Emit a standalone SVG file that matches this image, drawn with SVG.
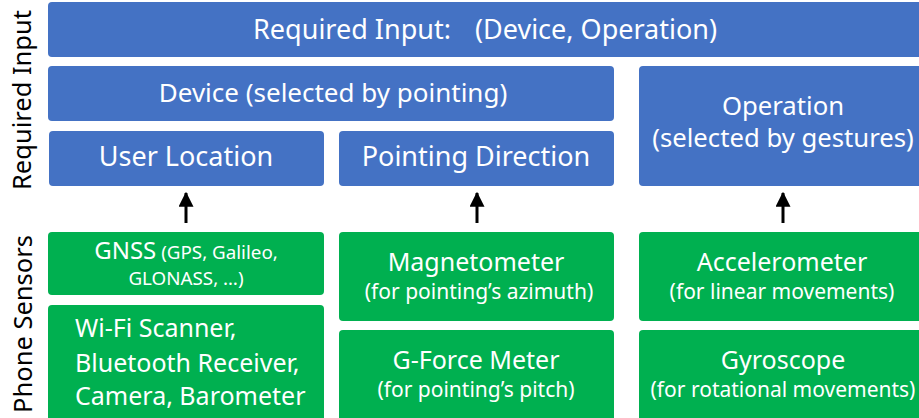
<svg xmlns="http://www.w3.org/2000/svg" width="919" height="418" viewBox="0 0 919 418">
<style>
.b{fill:#4472C4}
.g{fill:#00B050}
text{font-family:"Noto Sans","Open Sans","DejaVu Sans",sans-serif;fill:#fff;text-anchor:middle}
.side{fill:#000;font-size:25.5px}
.t{font-size:27px}
.h{font-size:25px}
.s{font-size:21px}
.l{text-anchor:start}
.arr{stroke:#000;stroke-width:3;fill:none}
</style>
<defs>
<marker id="ah" markerWidth="5" markerHeight="5" refX="4.6" refY="2.5" orient="auto" markerUnits="strokeWidth" viewBox="0 0 5 5">
<path d="M0,0 L5,2.5 L0,5 z" fill="#000"/>
</marker>
</defs>
<text class="side" transform="translate(31,100) rotate(-90)">Required Input</text>
<text class="side" transform="translate(32,324) rotate(-90)">Phone Sensors</text>
<g id="required-input">
<rect class="b" x="48" y="2" width="876" height="55" rx="4"/>
<text class="t" y="39"><tspan x="352">Required Input:</tspan><tspan x="596">(Device, Operation)</tspan></text>
</g>
<g id="device">
<rect class="b" x="48" y="66" width="566" height="55" rx="4"/>
<text class="t" x="333" y="102" style="font-size:26px">Device (selected by pointing)</text>
</g>
<g id="operation">
<rect class="b" x="639" y="66" width="285" height="120" rx="4"/>
<text class="t" x="783" y="115" style="font-size:25.7px">Operation</text>
<text class="t" x="783" y="147" style="font-size:25.7px">(selected by gestures)</text>
</g>
<g id="user-location">
<rect class="b" x="49" y="131" width="275" height="55" rx="4"/>
<text class="t" x="186" y="166">User Location</text>
</g>
<g id="pointing-direction">
<rect class="b" x="339" y="131" width="275" height="55" rx="4"/>
<text class="t" x="476" y="166">Pointing Direction</text>
</g>
<g id="gnss">
<rect class="g" x="48" y="232" width="276" height="63" rx="4"/>
<text x="186" y="259"><tspan style="font-size:24px">GNSS</tspan><tspan style="font-size:18.8px"> (GPS, Galileo,</tspan></text>
<text x="186" y="285" style="font-size:18.8px">GLONASS, …)</text>
</g>
<g id="wifi">
<rect class="g" x="48" y="305" width="276" height="118" rx="4"/>
<text class="h l" x="75" y="337">Wi-Fi Scanner,</text>
<text class="h l" x="75" y="372">Bluetooth Receiver,</text>
<text class="h l" x="75" y="405">Camera, Barometer</text>
</g>
<g id="magnetometer">
<rect class="g" x="339" y="232" width="275" height="89" rx="4"/>
<text class="h" x="476" y="271">Magnetometer</text>
<text class="s" x="479" y="299">(for pointing’s azimuth)</text>
</g>
<g id="gforce">
<rect class="g" x="339" y="330" width="275" height="93" rx="4"/>
<text class="h" x="476" y="369">G-Force Meter</text>
<text class="s" x="476" y="397">(for pointing’s pitch)</text>
</g>
<g id="accelerometer">
<rect class="g" x="639" y="232" width="285" height="89" rx="4"/>
<text class="h" x="782" y="271">Accelerometer</text>
<text class="s" x="782" y="299">(for linear movements)</text>
</g>
<g id="gyroscope">
<rect class="g" x="639" y="330" width="285" height="93" rx="4"/>
<text class="h" x="783" y="369">Gyroscope</text>
<text class="s" x="783" y="397">(for rotational movements)</text>
</g>
<g id="connectors">
<line class="arr" x1="186" y1="223" x2="186" y2="193" marker-end="url(#ah)"/>
<line class="arr" x1="477" y1="223" x2="477" y2="193" marker-end="url(#ah)"/>
<line class="arr" x1="783" y1="223" x2="783" y2="193" marker-end="url(#ah)"/>
</g>
</svg>
